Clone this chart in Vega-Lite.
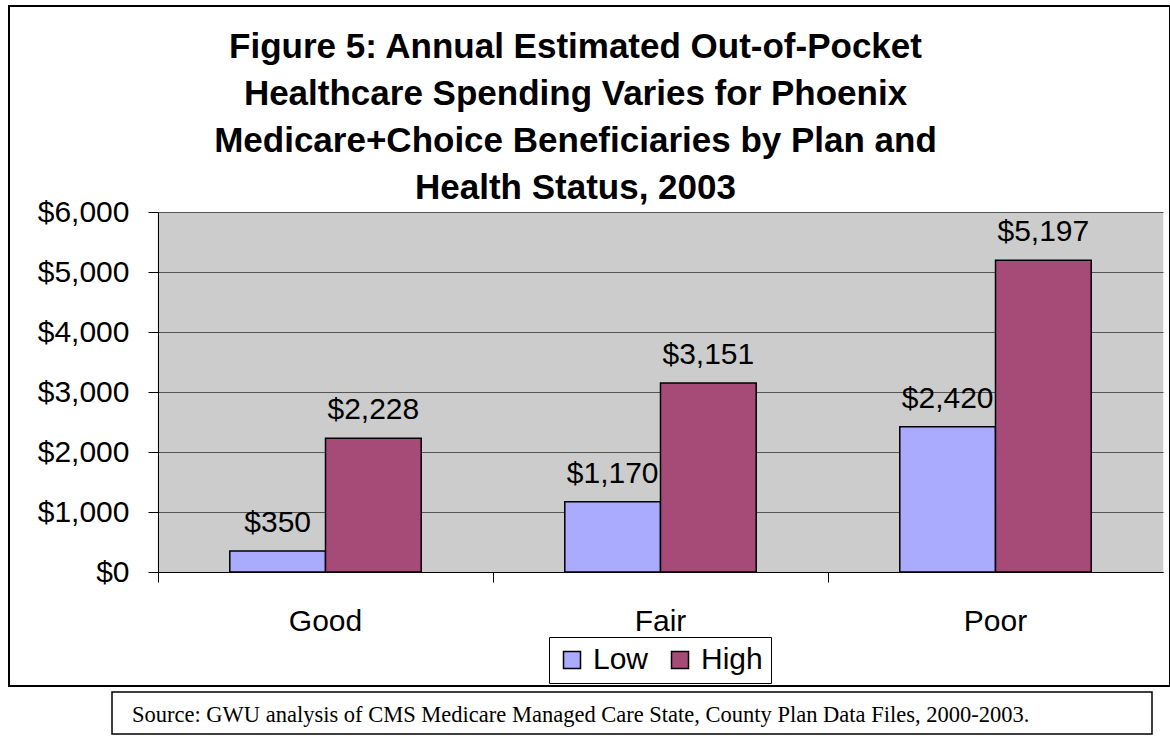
{
  "$schema": "https://vega.github.io/schema/vega-lite/v6.json",
  "background": "white",
  "padding": {"left": 7, "top": 5, "right": 0, "bottom": 0},
  "spacing": 4,
  "config": {
    "font": "Liberation Sans",
    "view": {"stroke": null}
  },
  "vconcat": [
    {
      "width": 1161,
      "height": 680,
      "view": {"stroke": "black", "strokeWidth": 2, "fill": "white"},
      "title": {
        "text": ["Figure 5: Annual Estimated Out-of-Pocket", "Healthcare Spending Varies for Phoenix", "Medicare+Choice Beneficiaries by Plan and", "Health Status, 2003"],
        "font": "Liberation Sans",
        "fontSize": 35,
        "fontWeight": "bold",
        "color": "black",
        "lineHeight": 47,
        "anchor": "middle",
        "frame": "group",
        "orient": "top",
        "baseline": "top",
        "offset": -200,
        "dx": -14
      },
      "data": {
        "values": [
          {"status": "Good", "plan": "Low", "value": 350},
          {"status": "Good", "plan": "High", "value": 2228},
          {"status": "Fair", "plan": "Low", "value": 1170},
          {"status": "Fair", "plan": "High", "value": 3151},
          {"status": "Poor", "plan": "Low", "value": 2420},
          {"status": "Poor", "plan": "High", "value": 5197}
        ]
      },
      "encoding": {
        "x": {
          "field": "status",
          "type": "nominal",
          "sort": ["Good", "Fair", "Poor"],
          "title": null,
          "scale": {"range": [149, 1154], "paddingInner": 0, "paddingOuter": 0}
        },
        "xOffset": {
          "field": "plan",
          "type": "nominal",
          "sort": ["Low", "High"],
          "scale": {"paddingInner": 0, "paddingOuter": 0.75}
        },
        "y": {
          "field": "value",
          "type": "quantitative",
          "title": null,
          "scale": {"domain": [0, 6000], "range": [566, 206], "nice": false, "zero": true},
          "axis": {
            "offset": -149,
            "values": [0, 1000, 2000, 3000, 4000, 5000, 6000],
            "format": "$,.0f",
            "grid": true,
            "gridColor": "#555555",
            "gridWidth": 1,
            "gridOpacity": 1,
            "tickSize": 10,
            "tickColor": "black",
            "tickWidth": 1,
            "domainColor": "black",
            "domainWidth": 1,
            "labelPadding": 19,
            "labelFontSize": 30,
            "labelFont": "Liberation Sans",
            "labelColor": "black"
          }
        }
      },
      "resolve": {"axis": {"x": "independent"}},
      "layer": [
        {
          "mark": {"type": "bar", "stroke": "black", "strokeWidth": 1.5},
          "encoding": {
            "x": {
              "field": "status",
              "type": "nominal",
              "sort": ["Good", "Fair", "Poor"],
              "title": null,
              "axis": {
                "orient": "top",
                "grid": true,
                "gridColor": "#CCCCCC",
                "gridWidth": 335.5,
                "gridOpacity": 1,
                "bandPosition": 0.5,
                "ticks": false,
                "domain": false,
                "labels": false
              }
            },
            "fill": {
              "field": "plan",
              "type": "nominal",
              "sort": ["Low", "High"],
              "scale": {"domain": ["Low", "High"], "range": ["#AAAAFF", "#A64A78"]},
              "legend": {
                "orient": "none",
                "legendX": 540,
                "legendY": 631,
                "direction": "horizontal",
                "title": null,
                "strokeColor": "black",
                "fillColor": "white",
                "padding": 8,
                "symbolType": "square",
                "symbolSize": 289,
                "symbolStrokeColor": "black",
                "symbolStrokeWidth": 1.5,
                "labelFontSize": 30,
                "labelFont": "Liberation Sans",
                "labelColor": "black",
                "labelOffset": 6,
                "columnPadding": 16
              }
            }
          }
        },
        {
          "mark": {"type": "text", "dy": -19, "baseline": "alphabetic", "fontSize": 30, "font": "Liberation Sans", "color": "black"},
          "encoding": {
            "x": {
              "field": "status",
              "type": "nominal",
              "sort": ["Good", "Fair", "Poor"],
              "title": null,
              "axis": {
                "orient": "bottom",
                "offset": -114,
                "grid": false,
                "bandPosition": 0,
                "tickExtra": true,
                "ticks": true,
                "tickSize": 10,
                "tickColor": "black",
                "tickWidth": 1,
                "domain": true,
                "domainColor": "black",
                "domainWidth": 1,
                "labelFontSize": 30,
                "labelFont": "Liberation Sans",
                "labelColor": "black",
                "labelPadding": 24,
                "labelAngle": 0
              }
            },
            "text": {"field": "value", "type": "quantitative", "format": "$,.0f"}
          }
        }
      ]
    },
    {
      "spacing": 0,
      "hconcat": [
        {
          "width": 102,
          "height": 42,
          "view": {"stroke": null, "fill": null},
          "data": {"values": [{"note": ""}]},
          "mark": "text",
          "encoding": {"text": {"field": "note", "type": "nominal"}}
        },
        {
          "width": 1040,
          "height": 42,
          "view": {"stroke": "black", "strokeWidth": 1.5, "fill": "white"},
          "title": {
            "text": "Source: GWU analysis of CMS Medicare Managed Care State, County Plan Data Files, 2000-2003.",
            "font": "Liberation Serif",
            "fontSize": 22.5,
            "fontWeight": "normal",
            "color": "black",
            "anchor": "start",
            "frame": "group",
            "orient": "top",
            "baseline": "top",
            "offset": -34,
            "dx": 20
          },
          "data": {"values": [{"note": ""}]},
          "mark": "text",
          "encoding": {"text": {"field": "note", "type": "nominal"}}
        }
      ]
    }
  ]
}
